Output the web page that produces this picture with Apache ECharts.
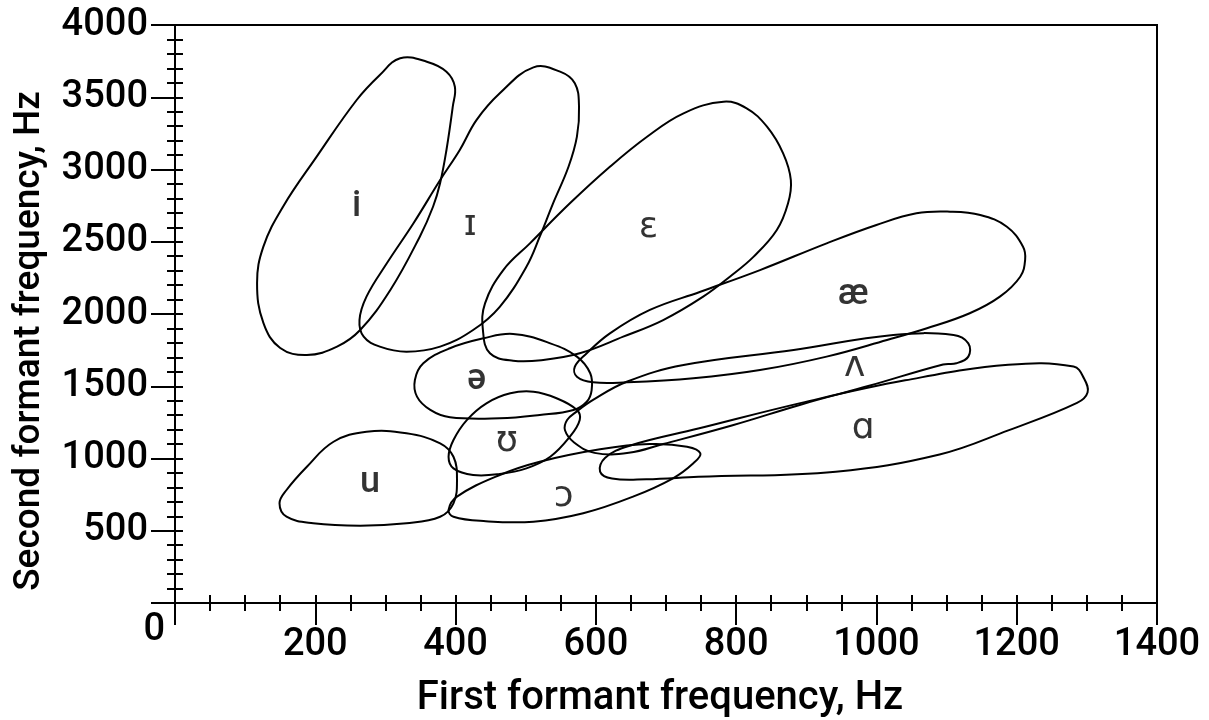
<!DOCTYPE html>
<html>
<head>
<meta charset="utf-8">
<script src="https://cdn.jsdelivr.net/npm/echarts@6/dist/echarts.min.js"></script>
<style>
  html, body { margin: 0; padding: 0; background: #fff; }
  #chart { width: 1209px; height: 720px; }
</style>
</head>
<body>
<div id="chart"></div>
<script>
// Vowel regions in the F1/F2 plane, each a closed outline of [F1 Hz, F2 Hz] points
const vowelI = [[321,3770],[359,3746],[387,3677],[399,3573],[396,3435],[387,3135],[378,2907],[368,2744],[349,2535],[307,2166],[264,1889],[231,1774],[188,1716],[150,1765],[126,1938],[117,2215],[126,2466],[154,2743],[202,3089],[259,3481],[292,3654]];
const vowelSmallI = [[511,3707],[549,3677],[570,3597],[576,3435],[573,3227],[561,3019],[539,2766],[520,2535],[501,2327],[463,2050],[425,1889],[378,1774],[330,1739],[292,1774],[269,1843],[263,1958],[273,2120],[302,2351],[340,2628],[378,2927],[406,3135],[430,3343],[463,3527]];
const vowelEpsilon = [[782,3469],[815,3423],[844,3296],[867,3112],[878,2927],[874,2766],[858,2581],[825,2397],[791,2258],[753,2120],[696,1958],[639,1843],[577,1728],[525,1682],[482,1677],[449,1728],[439,1889],[442,2074],[468,2304],[506,2489],[563,2766],[620,3019],[673,3227],[725,3389]];
const vowelAsh = [[1105,2708],[1148,2685],[1186,2604],[1209,2466],[1212,2374],[1205,2258],[1176,2120],[1133,2005],[1072,1901],[1015,1820],[929,1705],[834,1612],[739,1555],[644,1527],[596,1527],[573,1566],[570,1635],[587,1728],[620,1866],[677,2028],[749,2154],[834,2304],[929,2489],[1000,2616],[1057,2697]];
const vowelWedge = [[1131,1797],[1131,1705],[1114,1659],[1095,1651],[991,1505],[893,1374],[795,1230],[696,1100],[647,1039],[598,1039],[569,1111],[556,1195],[559,1266],[573,1326],[596,1405],[644,1531],[725,1647],[882,1751],[1024,1855],[1110,1855]];
const vowelScriptA = [[1281,1636],[1188,1648],[1041,1541],[893,1385],[746,1207],[647,1087],[613,1004],[606,909],[623,861],[672,856],[746,873],[942,909],[1090,1028],[1188,1195],[1286,1385],[1301,1457],[1296,1553]];
const vowelSchwa = [[482,1862],[535,1797],[573,1705],[592,1590],[594,1474],[587,1393],[568,1336],[520,1301],[463,1278],[392,1285],[364,1336],[345,1428],[342,1543],[354,1659],[392,1763],[440,1832]];
const vowelUpsilon = [[511,1462],[544,1417],[573,1336],[577,1266],[563,1151],[535,1012],[501,932],[463,893],[425,886],[397,932],[390,1012],[397,1128],[416,1266],[444,1382],[478,1451]];
const vowelOpenO = [[390,644],[402,736],[463,886],[520,978],[606,1064],[677,1100],[730,1082],[749,1036],[739,967],[710,863],[653,736],[582,621],[511,563],[440,567],[397,597]];
const vowelU = [[273,1185],[330,1174],[378,1105],[397,1012],[402,851],[397,690],[378,597],[330,552],[264,535],[197,552],[159,597],[149,690],[159,782],[188,943],[226,1116]];

// IPA symbols and where each one sits
const labelNames = ['i', 'ɪ', 'ɛ', 'æ', 'ʌ', 'ɑ', 'ə', 'ʊ', 'ɔ', 'u'];
const labelF1 = [259, 421, 675, 967, 969, 981, 430, 473, 554, 278];
const labelF2 = [2740, 2609, 2593, 2131, 1635, 1207, 1543, 1116, 736, 828];

const outlines = [vowelI, vowelSmallI, vowelEpsilon, vowelAsh, vowelWedge, vowelScriptA, vowelSchwa, vowelUpsilon, vowelOpenO, vowelU];

const FONT = 'Roboto, "DejaVu Sans", sans-serif';
const WEIGHT = 500;

function loopSeries(pts, idx) {
  return {
    type: 'custom',
    name: labelNames[idx],
    coordinateSystem: 'cartesian2d',
    xAxisIndex: 0, yAxisIndex: 0,
    data: pts,
    silent: true,
    clip: false,
    renderItem: function (params, api) {
      if (params.dataIndex !== 0) return null;
      return {
        type: 'polygon',
        shape: { points: pts.map(function (p) { return api.coord(p); }), smooth: 0.4 },
        style: { fill: 'none', stroke: '#000', lineWidth: 2 }
      };
    }
  };
}

const tickStyle = { color: '#000', width: 2 };

const chart = echarts.init(document.getElementById('chart'), null, { renderer: 'canvas' });
chart.setOption({
  animation: false,
  backgroundColor: '#fff',
  grid: {
    left: 175, right: 52, top: 25, bottom: 117,
    show: true, borderColor: '#000', borderWidth: 2,
    outerBoundsMode: 'none'
  },
  xAxis: [
    {
      type: 'value', min: 0, max: 1400, interval: 200, position: 'bottom',
      axisLine: { show: true, onZero: false, lineStyle: tickStyle },
      axisTick: { show: true, inside: false, length: 22, lineStyle: tickStyle },
      minorTick: { show: true, splitNumber: 4, length: 8, lineStyle: tickStyle },
      splitLine: { show: false },
      axisLabel: {
        margin: 23, fontFamily: FONT, fontWeight: WEIGHT, fontSize: 38, color: '#000',
        formatter: function (v) { return v === 0 ? '' : String(v); }
      },
      name: 'First formant frequency, Hz',
      nameLocation: 'middle', nameGap: 76,
      nameTextStyle: { fontFamily: FONT, fontWeight: WEIGHT, fontSize: 40, color: '#000', padding: [0, 12, 0, 0] }
    },
    {
      type: 'value', min: 0, max: 1400, interval: 200, position: 'bottom',
      axisLine: { show: false },
      axisTick: { show: true, inside: true, length: 8, lineStyle: tickStyle },
      minorTick: { show: true, splitNumber: 4, length: 8, lineStyle: tickStyle },
      splitLine: { show: false },
      axisLabel: { show: false }
    }
  ],
  yAxis: [
    {
      type: 'value', min: 0, max: 4000, interval: 500, position: 'left',
      axisLine: { show: true, onZero: false, lineStyle: tickStyle },
      axisTick: { show: true, inside: false, length: 24, lineStyle: tickStyle },
      minorTick: { show: true, splitNumber: 5, length: 8, lineStyle: tickStyle },
      splitLine: { show: false },
      axisLabel: {
        margin: 10, fontFamily: FONT, fontWeight: WEIGHT, fontSize: 38, color: '#000',
        formatter: function (v) { return v === 0 ? '{z|0}' : '{n|' + v + '}'; },
        rich: {
          n: { fontFamily: FONT, fontWeight: WEIGHT, fontSize: 38, color: '#000', padding: [0, 17, 0, 0] },
          z: { fontFamily: FONT, fontWeight: WEIGHT, fontSize: 38, color: '#000', padding: [54, 0, 0, 0] }
        }
      },
      name: 'Second formant frequency, Hz',
      nameLocation: 'middle', nameGap: 127,
      nameTextStyle: { fontFamily: FONT, fontWeight: WEIGHT, fontSize: 37, color: '#000', padding: [0, 54, 0, 0] }
    },
    {
      type: 'value', min: 0, max: 4000, interval: 500, position: 'left',
      axisLine: { show: false },
      axisTick: { show: true, inside: true, length: 8, lineStyle: tickStyle },
      minorTick: { show: true, splitNumber: 5, length: 8, lineStyle: tickStyle },
      splitLine: { show: false },
      axisLabel: { show: false }
    }
  ],
  series: outlines.map(loopSeries).concat([{
    type: 'scatter',
    xAxisIndex: 0, yAxisIndex: 0,
    symbolSize: 0,
    silent: true,
    data: labelNames.map(function (n, i) { return { name: n, value: [labelF1[i], labelF2[i]] }; }),
    label: {
      show: true, position: 'inside',
      formatter: function (p) { return p.name; },
      fontFamily: FONT, fontWeight: WEIGHT, fontSize: 36, color: '#000'
    }
  }])
});
</script>
</body>
</html>
